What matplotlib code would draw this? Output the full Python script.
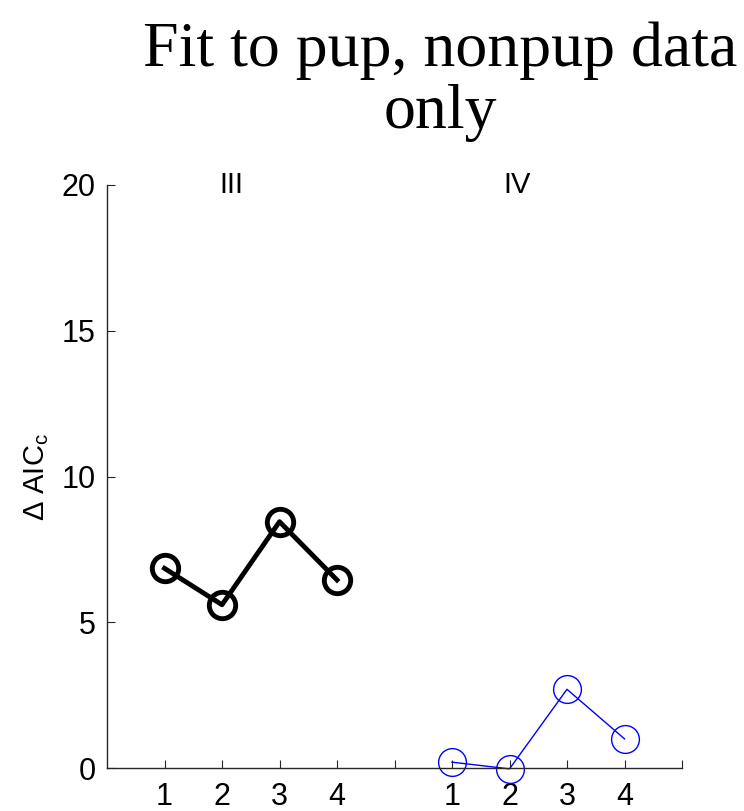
import matplotlib
matplotlib.use("Agg")
import matplotlib.pyplot as plt

plt.rcParams['font.family'] = ['Liberation Sans', 'DejaVu Sans']
plt.rcParams['mathtext.fontset'] = 'custom'
plt.rcParams['mathtext.rm'] = 'Liberation Sans'
plt.rcParams['mathtext.it'] = 'Liberation Sans'

# data
models = [1, 2, 3, 4]
group_labels = ['III', 'IV']
x_iii = [1, 2, 3, 4]
x_iv = [6, 7, 8, 9]
aic_iii = [6.85, 5.6, 8.45, 6.45]
aic_iv = [0.2, -0.03, 2.7, 1.0]

fig = plt.figure(figsize=(7.44, 8.11), dpi=100)
ax = fig.add_axes([107/744, 1 - 768/811, 575/744, 583/811])

ax.plot(x_iii, aic_iii, color='black', lw=3.5, marker='o', ms=19,
        mfc='none', mec='black', mew=3.5, clip_on=False)
ax.plot(x_iv, aic_iv, color='blue', lw=1, marker='o', ms=20,
        mfc='none', mec='blue', mew=1, clip_on=False)

ax.set_xlim(0, 10)
ax.set_ylim(0, 20)
ax.set_xticks(range(1, 11))
ax.set_xticklabels([str(m) for m in models] + [''] + [str(m) for m in models] + [''])
ax.set_yticks([0, 5, 10, 15, 20])

for s in ['top', 'right']:
    ax.spines[s].set_visible(False)
for s in ['left', 'bottom']:
    ax.spines[s].set_color('#262626')
    ax.spines[s].set_linewidth(1)

ax.tick_params(axis='x', direction='in', length=6, pad=10, labelsize=22, color='#262626')
ax.tick_params(axis='y', direction='in', length=6, pad=8, labelsize=22, color='#262626')

ax.text(2.17, 20, group_labels[0], fontsize=21, ha='center', va='center')
ax.text(7.13, 20, group_labels[1], fontsize=21, ha='center', va='center')

ax.set_ylabel(r'$\Delta$ AIC$_\mathrm{c}$', fontsize=21, labelpad=8)

fig.text(440/744, 1 - 82/811, 'Fit to pup, nonpup data\nonly', fontsize=46,
         family='Liberation Serif', ha='center', va='center', linespacing=1.1)

fig.savefig('out.png', dpi=100)
